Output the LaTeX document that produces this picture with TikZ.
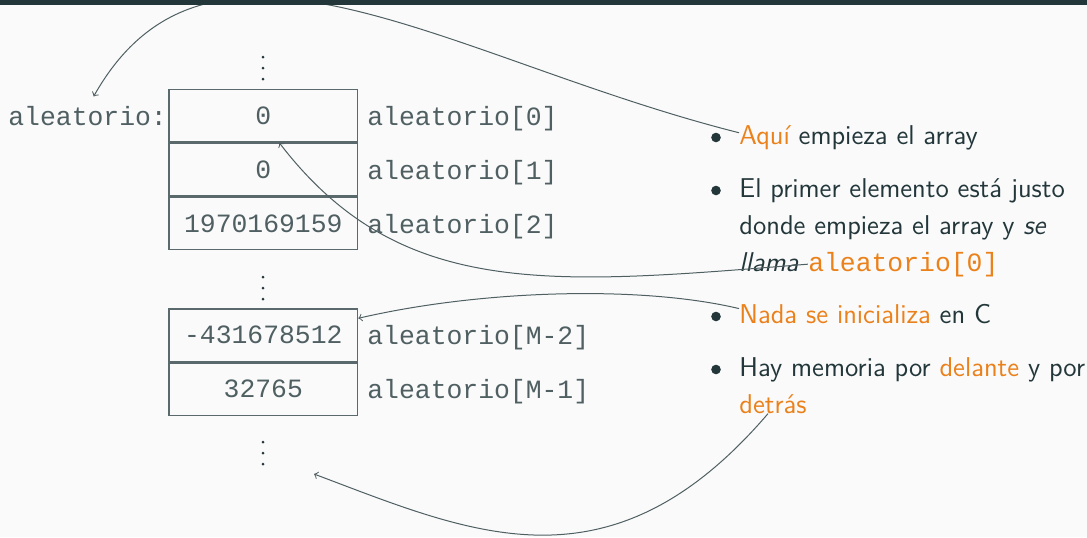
\documentclass[tikz,border=0pt]{standalone}
\usepackage{fontspec}
\setmonofont{Liberation Mono}
\renewcommand{\familydefault}{\sfdefault}
\usetikzlibrary{positioning}
\definecolor{mDarkTeal}{HTML}{23373B}
\definecolor{mLightBrown}{HTML}{EB811B}
\definecolor{mBg}{HTML}{FAFAFA}
\newcommand{\hl}[1]{\textcolor{mLightBrown}{#1}}

\begin{document}
\begin{tikzpicture}[x=0.5pt, y=-0.5pt, every node/.style={text=mDarkTeal}]
            \tikzstyle{cell}=[draw=mDarkTeal!75, line width=0.7pt, minimum width=94.3pt, minimum height=26.2pt, inner sep=0pt, text=mDarkTeal!80, font=\fontsize{13.2}{15}\selectfont\ttfamily]
            \tikzstyle{addr}=[anchor=base west, inner sep=0pt, text=mDarkTeal!80, font=\fontsize{13.2}{15}\selectfont\ttfamily]
            \tikzstyle{txt}=[anchor=base west, inner sep=0pt, font=\fontsize{13.6}{18}\selectfont\sffamily]
            \tikzstyle{bul}=[circle, fill=mDarkTeal, inner sep=0pt, minimum size=4.8pt]
            \tikzstyle{link}=[->, draw=mDarkTeal!80, line width=0.5pt]

            \clip (0,0) rectangle (1087,537);
            \fill[mBg] (0,0) rectangle (1087,537);

            % memory cells
            \node[cell] (C_1) at (263.3,115.9) {0};
            \node[cell, below=0pt of C_1] (C_2) {0};
            \node[cell, below=0pt of C_2] (C_3) {1970169159};
            \node[cell] (C_4) at (263.3,335.2) {-431678512};
            \node[cell, below=0pt of C_4] (C_5) {32765};

            % vertical dots
            \coordinate (D_1) at (263,68);
            \coordinate (D_2) at (263,288);
            \coordinate (D_3) at (263,453);
            \foreach \y in {68,288,453}
                \foreach \dy in {-11,0,11}
                    \fill[mDarkTeal] (263,\y+\dy) circle (1.5);

            \node[addr] (A_0) at (8,125) {aleatorio:};
            \node[addr] (L_1) at (367,125) {aleatorio[0]};
            \node[addr] (L_2) at (367,179) {aleatorio[1]};
            \node[addr] (L_3) at (367,233) {aleatorio[2]};
            \node[addr] (L_4) at (367,344) {aleatorio[M-2]};
            \node[addr] (L_5) at (367,398) {aleatorio[M-1]};

            % bullet list
            \node[bul] (B_1) at (716,137.5) {};
            \node[bul] (B_2) at (716,190.5) {};
            \node[bul] (B_3) at (716,316.5) {};
            \node[bul] (B_4) at (716,369.5) {};
            \node[txt] (T_1) at (739,144) {\hl{Aquí} empieza el array};
            \node[txt] (T_2) at (739,197) {El primer elemento está justo};
            \node[txt] (T_3) at (739,234) {donde empieza el array y \textit{se}};
            \node[txt] (T_4) at (739,271) {\textit{llama}};
            \node[addr, text=mLightBrown] (T_5) at ([xshift=4.3pt]T_4.base east) {aleatorio[0]};
            \node[txt] (T_6) at (739,323) {\hl{Nada se inicializa} en C};
            \node[txt] (T_7) at (739,376) {Hay memoria por \hl{delante} y por};
            \node[txt] (T_8) at (739,413) {\hl{detrás}};

            \draw[link] ([yshift=2.3pt]T_1.west) .. controls (450,60) and (210,-110) .. ([shift={(6,-9)}]A_0.north);
            \draw[link] (T_5.west) .. controls (550,285) and (400,300) .. ([xshift=8pt]C_1.south);
            \draw[link] ([yshift=2.5pt]T_6.west) .. controls (640,285) and (480,290) .. ([yshift=-5pt]C_4.north east);
            \draw[link] ([xshift=-2.5pt]T_8.south) .. controls (610,598) and (471,533) .. ([shift={(51,21)}]D_3);

            \fill[mDarkTeal] (0,0) rectangle (1087,5);
        \end{tikzpicture}
\end{document}
